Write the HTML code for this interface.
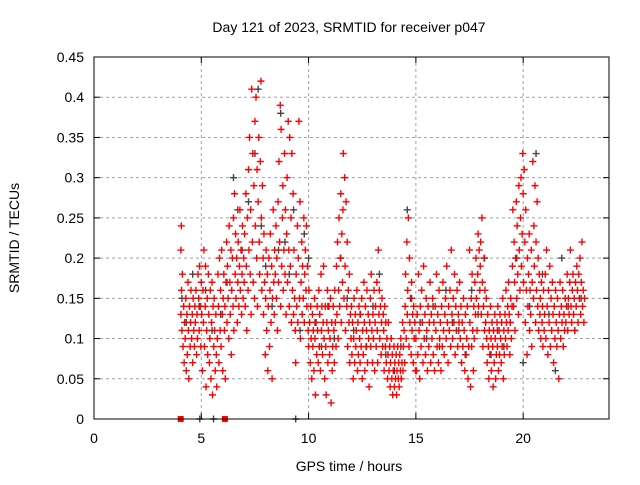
<!DOCTYPE html>
<html><head><meta charset="utf-8"><style>
body{margin:0;background:#fff}
svg text{font-family:"Liberation Sans",sans-serif;font-size:14px;fill:#000}
</style></head><body>
<svg id="c" width="640" height="480" xmlns="http://www.w3.org/2000/svg">
<rect width="640" height="480" fill="#fff"/>
<text x="349" y="32" text-anchor="middle">Day 121 of 2023, SRMTID for receiver p047</text>
<text x="349" y="471" text-anchor="middle">GPS time / hours</text>
<text transform="translate(19,238) rotate(-90)" text-anchor="middle">SRMTID / TECUs</text>
<g id="grid"></g>
<g id="ticks"></g>
<g id="gray"></g>
<g id="red"></g>
<rect x="94" y="57" width="515" height="362" fill="none" stroke="#000" stroke-width="1"/>
</svg>
<script>
const xTicks=[0,5,10,15,20];
const yTicks=[0,0.05,0.1,0.15,0.2,0.25,0.3,0.35,0.4,0.45];
const yTickLabels=["0","0.05","0.1","0.15","0.2","0.25","0.3","0.35","0.4","0.45"];
const redZeroTimes=[4.04,6.1];
const grayZeroTimes=[4.93,5.57,9.4];
const grayPoints=[[4.1,.15],[4.3,.12],[4.6,.18],[4.9,.14],[5.2,.16],[5.5,.11],[5.9,.13],[6.2,.17],[6.5,.3],[6.7,.26],[6.9,.21],[7.2,.27],[7.5,.33],[7.65,.41],[7.8,.24],[8.0,.19],[8.3,.14],[8.6,.21],[8.7,.38],[8.9,.22],[9.1,.18],[9.3,.26],[9.6,.11],[9.8,.23],[10.0,.2],[10.3,.12],[10.6,.09],[10.9,.14],[11.2,.1],[11.5,.2],[11.8,.15],[12.1,.11],[12.4,.13],[12.7,.09],[13.0,.14],[13.3,.18],[13.6,.08],[14.0,.06],[14.3,.09],[14.6,.26],[14.8,.15],[15.2,.12],[15.5,.1],[15.8,.14],[16.1,.09],[16.4,.16],[16.7,.12],[17.0,.11],[17.3,.08],[17.6,.16],[17.9,.13],[18.2,.2],[18.5,.08],[18.8,.11],[19.1,.09],[19.4,.12],[19.7,.2],[20.0,.07],[20.3,.14],[20.6,.33],[20.9,.18],[21.2,.13],[21.5,.06],[21.8,.2],[22.1,.14],[22.4,.11],[22.7,.15]];
const redPoints=[[4.05,.13],[4.05,.21],[4.07,.24],[4.08,.16],[4.1,.11],[4.12,.18],[4.15,.09],[4.18,.14],[4.2,.07],[4.22,.12],[4.25,.10],[4.28,.15],[4.3,.06],[4.33,.13],[4.35,.08],[4.38,.17],[4.4,.11],[4.42,.05],[4.45,.14],[4.48,.09],[4.5,.12],[4.52,.16],[4.55,.10],[4.58,.13],[4.6,.07],[4.62,.15],[4.65,.11],[4.68,.09],[4.7,.14],[4.72,.12],[4.75,.16],[4.78,.08],[4.8,.13],[4.82,.10],[4.85,.18],[4.88,.15],[4.9,.11],[4.92,.19],[4.95,.14],[4.98,.09],
[5.0,.17],[5.02,.13],[5.05,.06],[5.08,.16],[5.1,.12],[5.12,.21],[5.15,.09],[5.18,.14],[5.2,.19],[5.22,.04],[5.25,.11],[5.28,.15],[5.3,.08],[5.33,.18],[5.35,.13],[5.38,.07],[5.4,.10],[5.42,.16],[5.45,.05],[5.48,.12],[5.5,.17],[5.52,.03],[5.55,.14],[5.58,.09],[5.6,.15],[5.62,.11],[5.65,.06],[5.68,.13],[5.7,.08],[5.72,.04],[5.75,.10],[5.78,.18],[5.8,.14],[5.82,.07],[5.85,.20],[5.88,.11],[5.9,.16],[5.92,.09],[5.95,.21],[5.98,.13],[6.0,.06],[6.02,.15],[6.05,.18],[6.08,.11],[6.1,.14],[6.12,.05],[6.15,.17],[6.18,.22],
[6.2,.12],[6.22,.19],[6.25,.15],[6.28,.10],[6.3,.24],[6.33,.17],[6.35,.13],[6.38,.21],[6.4,.08],[6.42,.16],[6.45,.20],[6.48,.14],[6.5,.25],[6.52,.11],[6.55,.28],[6.58,.18],[6.6,.23],[6.62,.15],[6.65,.20],[6.68,.12],[6.7,.17],[6.72,.22],[6.75,.14],[6.78,.19],[6.8,.26],[6.82,.16],[6.85,.21],[6.88,.13],[6.9,.18],[6.92,.24],[6.95,.15],[6.98,.20],
[7.0,.17],[7.02,.23],[7.05,.14],[7.08,.28],[7.1,.19],[7.12,.11],[7.15,.25],[7.18,.16],[7.2,.31],[7.22,.21],[7.25,.35],[7.28,.18],[7.3,.26],[7.32,.13],[7.35,.41],[7.38,.22],[7.4,.33],[7.42,.17],[7.45,.29],[7.48,.15],[7.5,.37],[7.52,.24],[7.55,.40],[7.58,.20],[7.6,.31],[7.62,.14],[7.65,.27],[7.68,.35],[7.7,.22],[7.72,.18],[7.75,.32],[7.78,.42],[7.8,.25],[7.82,.16],[7.85,.29],[7.88,.20],[7.9,.13],[7.92,.23],[7.95,.17],[7.98,.08],
[8.0,.15],[8.02,.21],[8.05,.11],[8.08,.18],[8.1,.06],[8.12,.14],[8.15,.20],[8.18,.09],[8.2,.16],[8.22,.23],[8.25,.12],[8.28,.19],[8.3,.05],[8.32,.15],[8.35,.26],[8.38,.17],[8.4,.13],[8.42,.21],[8.45,.18],[8.48,.24],[8.5,.15],[8.52,.20],[8.55,.11],[8.58,.27],[8.6,.17],[8.62,.32],[8.65,.22],[8.68,.39],[8.7,.14],[8.72,.36],[8.75,.19],[8.78,.25],[8.8,.29],[8.82,.16],[8.85,.21],[8.88,.33],[8.9,.18],[8.92,.26],[8.95,.13],[8.98,.23],
[9.0,.30],[9.02,.17],[9.05,.37],[9.08,.21],[9.1,.14],[9.12,.35],[9.15,.19],[9.18,.25],[9.2,.12],[9.22,.33],[9.25,.16],[9.28,.28],[9.3,.13],[9.32,.21],[9.35,.15],[9.38,.11],[9.4,.07],[9.42,.18],[9.45,.14],[9.48,.24],[9.5,.12],[9.52,.20],[9.55,.37],[9.58,.15],[9.6,.27],[9.62,.10],[9.65,.17],[9.68,.22],[9.7,.13],[9.72,.19],[9.75,.15],[9.78,.25],[9.8,.12],[9.82,.18],[9.85,.21],[9.88,.16],[9.9,.24],[9.92,.14],[9.95,.19],[9.98,.11],
[10.0,.09],[10.02,.16],[10.05,.12],[10.08,.07],[10.1,.14],[10.12,.10],[10.15,.05],[10.18,.13],[10.2,.09],[10.22,.11],[10.25,.06],[10.28,.15],[10.3,.10],[10.32,.03],[10.35,.12],[10.38,.08],[10.4,.14],[10.42,.11],[10.45,.07],[10.48,.16],[10.5,.09],[10.52,.13],[10.55,.06],[10.58,.18],[10.6,.11],[10.62,.14],[10.65,.08],[10.68,.12],[10.7,.19],[10.72,.10],[10.75,.05],[10.78,.14],[10.8,.09],[10.82,.03],[10.85,.12],[10.88,.16],[10.9,.07],[10.92,.11],[10.95,.14],[10.98,.08],[11.0,.10],[11.02,.15],[11.05,.02],[11.08,.12],[11.1,.06],[11.12,.09],[11.15,.14],[11.18,.11],[11.2,.07],[11.22,.16],[11.25,.12],[11.28,.09],
[11.3,.19],[11.32,.13],[11.35,.22],[11.38,.10],[11.4,.16],[11.42,.25],[11.45,.14],[11.48,.20],[11.5,.28],[11.52,.12],[11.55,.23],[11.58,.17],[11.6,.26],[11.62,.33],[11.65,.15],[11.68,.30],[11.7,.19],[11.72,.11],[11.75,.27],[11.78,.14],[11.8,.22],[11.82,.09],[11.85,.16],[11.88,.12],[11.9,.18],[11.92,.07],[11.95,.13],[11.98,.10],
[12.0,.14],[12.02,.08],[12.05,.12],[12.08,.05],[12.1,.10],[12.12,.15],[12.15,.07],[12.18,.13],[12.2,.09],[12.22,.11],[12.25,.16],[12.28,.06],[12.3,.12],[12.32,.08],[12.35,.14],[12.38,.10],[12.4,.07],[12.42,.13],[12.45,.09],[12.48,.15],[12.5,.05],[12.52,.11],[12.55,.08],[12.58,.17],[12.6,.12],[12.62,.06],[12.65,.14],[12.68,.09],[12.7,.11],[12.72,.16],[12.75,.07],[12.78,.13],[12.8,.10],[12.82,.04],[12.85,.12],[12.88,.15],[12.9,.09],[12.92,.18],[12.95,.11],[12.98,.07],[13.0,.13],[13.02,.10],[13.05,.16],[13.08,.06],[13.1,.12],[13.12,.14],[13.15,.09],[13.18,.17],[13.2,.11],[13.22,.07],[13.25,.21],[13.28,.13],[13.3,.16],[13.32,.10],[13.35,.14],[13.38,.08],[13.4,.12],[13.42,.15],[13.45,.09],[13.48,.13],
[13.5,.11],[13.52,.06],[13.55,.14],[13.58,.09],[13.6,.12],[13.62,.07],[13.65,.10],[13.68,.05],[13.7,.08],[13.72,.12],[13.75,.06],[13.78,.09],[13.8,.04],[13.82,.07],[13.85,.10],[13.88,.05],[13.9,.08],[13.92,.03],[13.95,.06],[13.98,.09],[14.0,.04],[14.02,.07],[14.05,.05],[14.08,.08],[14.1,.03],[14.12,.06],[14.15,.09],[14.18,.05],[14.2,.07],[14.22,.04],[14.25,.08],[14.28,.06],[14.3,.10],[14.32,.05],[14.35,.07],[14.38,.12],[14.4,.06],[14.42,.09],[14.45,.11],[14.48,.07],
[14.5,.14],[14.52,.18],[14.55,.10],[14.58,.22],[14.6,.13],[14.62,.16],[14.65,.25],[14.68,.09],[14.7,.20],[14.72,.12],[14.75,.15],[14.78,.08],[14.8,.17],[14.82,.11],[14.85,.13],[14.88,.07],[14.9,.14],[14.92,.10],[14.95,.12],[14.98,.06],
[15.0,.10],[15.03,.06],[15.06,.13],[15.09,.08],[15.12,.18],[15.15,.11],[15.18,.05],[15.21,.14],[15.24,.09],[15.27,.16],[15.3,.12],[15.33,.07],[15.36,.19],[15.39,.10],[15.42,.13],[15.45,.08],[15.48,.15],[15.51,.11],[15.54,.06],[15.57,.14],[15.6,.09],[15.63,.12],[15.66,.17],[15.69,.07],[15.72,.13],[15.75,.10],[15.78,.15],[15.81,.08],[15.84,.12],[15.87,.06],[15.9,.14],[15.93,.11],[15.96,.18],[15.99,.09],[16.02,.13],[16.05,.07],[16.08,.16],[16.11,.10],[16.14,.12],[16.17,.06],[16.2,.14],[16.23,.09],[16.26,.17],[16.29,.11],[16.32,.08],[16.35,.13],[16.38,.15],[16.41,.10],[16.44,.19],[16.47,.12],[16.5,.07],[16.53,.14],[16.56,.11],[16.59,.16],[16.62,.09],[16.65,.21],[16.68,.13],[16.71,.10],[16.74,.15],[16.77,.12],[16.8,.18],[16.83,.08],[16.86,.14],[16.89,.11],[16.92,.16],[16.95,.09],[16.98,.13],[17.01,.12],[17.04,.17],[17.07,.10],[17.1,.14],[17.13,.07],[17.16,.12],[17.19,.09],[17.22,.15],[17.25,.11],[17.28,.06],[17.31,.13],[17.34,.08],[17.37,.10],[17.4,.14],[17.43,.05],[17.46,.09],
[17.5,.21],[17.52,.12],[17.55,.04],[17.58,.15],[17.6,.09],[17.62,.18],[17.65,.11],[17.68,.06],[17.7,.14],[17.72,.10],[17.75,.17],[17.78,.13],[17.8,.20],[17.82,.15],[17.85,.11],[17.88,.18],[17.9,.23],[17.92,.14],[17.95,.21],[17.98,.16],[18.0,.19],[18.02,.22],[18.05,.13],[18.08,.25],[18.1,.17],[18.12,.09],[18.15,.14],[18.18,.20],[18.2,.11],[18.22,.16],[18.25,.12],[18.28,.15],
[18.3,.10],[18.32,.07],[18.35,.13],[18.38,.09],[18.4,.05],[18.42,.11],[18.45,.08],[18.48,.14],[18.5,.10],[18.52,.06],[18.55,.12],[18.58,.09],[18.6,.04],[18.62,.11],[18.65,.07],[18.68,.13],[18.7,.10],[18.72,.05],[18.75,.08],[18.78,.12],[18.8,.09],[18.82,.14],[18.85,.06],[18.88,.11],[18.9,.08],[18.92,.13],[18.95,.10],[18.98,.07],[19.0,.12],[19.02,.09],[19.05,.15],[19.08,.05],[19.1,.11],[19.12,.08],[19.15,.13],[19.18,.10],[19.2,.16],[19.22,.12],[19.25,.09],[19.28,.14],[19.3,.11],[19.32,.17],[19.35,.13],[19.38,.08],[19.4,.12],[19.42,.15],[19.45,.10],[19.48,.14],
[19.5,.19],[19.52,.26],[19.55,.14],[19.58,.22],[19.6,.17],[19.62,.11],[19.65,.20],[19.68,.27],[19.7,.15],[19.72,.24],[19.75,.18],[19.78,.13],[19.8,.29],[19.82,.21],[19.85,.16],[19.88,.25],[19.9,.30],[19.92,.19],[19.95,.23],[19.98,.33],[20.0,.28],[20.02,.17],[20.05,.31],[20.08,.22],[20.1,.12],[20.12,.26],[20.15,.16],[20.18,.08],[20.2,.20],[20.22,.14],[20.25,.18],[20.28,.23],[20.3,.11],[20.32,.16],[20.35,.13],[20.38,.21],[20.4,.09],[20.42,.17],[20.45,.32],[20.48,.15],[20.5,.24],[20.52,.19],[20.55,.29],[20.58,.12],[20.6,.22],[20.62,.16],[20.65,.27],[20.68,.14],[20.7,.20],[20.72,.11],[20.75,.18],[20.78,.13],[20.8,.15],[20.82,.10],[20.85,.17],[20.88,.12],[20.9,.14],[20.92,.09],[20.95,.16],[20.98,.11],
[21.0,.13],[21.03,.18],[21.06,.10],[21.09,.21],[21.12,.14],[21.15,.08],[21.18,.16],[21.21,.12],[21.24,.19],[21.27,.09],[21.3,.15],[21.33,.11],[21.36,.17],[21.39,.13],[21.42,.07],[21.45,.14],[21.48,.10],[21.51,.16],[21.54,.12],[21.57,.09],[21.6,.15],[21.63,.11],[21.66,.05],[21.69,.13],[21.72,.17],[21.75,.10],[21.78,.14],[21.81,.12],[21.84,.16],[21.87,.09],[21.9,.13],[21.93,.11],[21.96,.15],[21.99,.12],[22.02,.14],[22.05,.18],[22.08,.11],[22.11,.15],[22.14,.13],[22.17,.17],[22.2,.21],[22.23,.14],[22.26,.12],[22.29,.16],[22.32,.18],[22.35,.13],[22.38,.15],[22.41,.11],[22.44,.17],[22.47,.14],[22.5,.19],[22.53,.16],[22.56,.12],[22.59,.18],[22.62,.15],[22.65,.20],[22.68,.13],[22.71,.17],[22.74,.22],[22.77,.14],[22.8,.16],[22.83,.12],[22.86,.15]];

const X0=94,X1=609,Y0=419,Y1=57,XMAX=24,YMAX=0.45;
function xs(t){return X0+(X1-X0)*t/XMAX;}
function ys(v){return Y0-(Y0-Y1)*v/YMAX;}
const NS="http://www.w3.org/2000/svg";
function mk(tag,attrs,parent){const e=document.createElementNS(NS,tag);for(const k in attrs)e.setAttribute(k,attrs[k]);parent.appendChild(e);return e;}
const grid=document.getElementById('grid'),ticks=document.getElementById('ticks');
xTicks.forEach(t=>{
  const x=xs(t);
  if(t>0){const g=mk('line',{x1:x,x2:x,y1:Y1,y2:Y0,stroke:'#a0a0a0','stroke-dasharray':'3,3'},grid);
  
  }
  mk('line',{x1:x,x2:x,y1:Y0,y2:Y0-6,stroke:'#000'},ticks);
  mk('line',{x1:x,x2:x,y1:Y1,y2:Y1+6,stroke:'#000'},ticks);
  const tx=mk('text',{x:x,y:443,'text-anchor':'middle'},ticks);tx.textContent=String(t);
  
  
});
yTicks.forEach((v,i)=>{
  const y=ys(v);
  if(v>0&&v<YMAX){const g=mk('line',{x1:X0,x2:X1,y1:y,y2:y,stroke:'#a0a0a0','stroke-dasharray':'3,3'},grid);
  
  }
  mk('line',{x1:X0,x2:X0+6,y1:y,y2:y,stroke:'#000'},ticks);
  mk('line',{x1:X1,x2:X1-6,y1:y,y2:y,stroke:'#000'},ticks);
  const tx=mk('text',{x:84,y:y+5,'text-anchor':'end'},ticks);tx.textContent=yTickLabels[i];
  
  
});
function cross(g,t,v,col){
  const x=xs(t),y=ys(v);
  const p=mk('path',{d:`M${x-3.5},${y}H${x+3.5}M${x},${y-3.5}V${y+3.5}`,stroke:col,'stroke-width':1.4,fill:'none'},g);
  
  
}
const gg=document.getElementById('gray'),rg=document.getElementById('red');
grayPoints.forEach(p=>cross(gg,p[0],p[1],'#444'));
grayZeroTimes.forEach(t=>cross(gg,t,0,'#444'));
redPoints.forEach(p=>cross(rg,p[0],p[1],'#f00'));
redZeroTimes.forEach(t=>{const r=mk('rect',{x:xs(t)-3,y:Y0-3,width:6,height:6,fill:'#f00'},rg);
  
  });
</script>
</body></html>
